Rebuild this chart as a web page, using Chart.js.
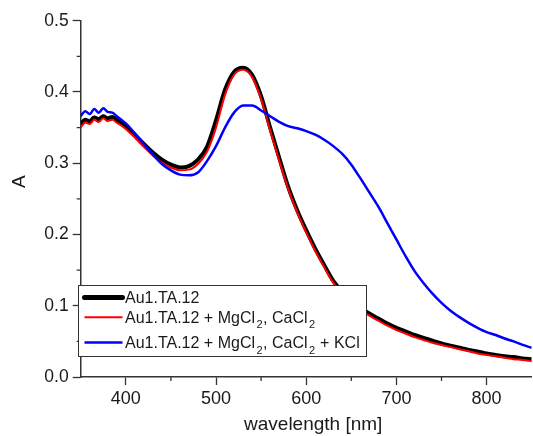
<!DOCTYPE html>
<html>
<head>
<meta charset="utf-8">
<script src="https://cdn.jsdelivr.net/npm/chart.js@4.4.0/dist/chart.umd.min.js"></script>
<style>
    html, body { margin: 0; padding: 0; background: #fff; }
    #wrap { width: 533px; height: 436px; position: relative; }
</style>
</head>
<body>
<div id="wrap"><canvas id="spectra"></canvas></div>
<script>
// wavelength [nm] and absorbance
let wavelengths = [350, 355, 360, 365, 370, 375, 380, 385, 390, 395, 400,
    410, 420, 430, 440, 450, 460, 470, 480, 490, 500,
    510, 520, 530, 540, 550, 560, 570, 580, 590, 600,
    610, 620, 630, 640, 650, 660, 670, 680, 690, 700,
    710, 720, 730, 740, 750, 760, 770, 780, 790, 800,
    810, 820, 830, 840, 850]

let au = [0.355, 0.361, 0.359, 0.364, 0.362, 0.366, 0.363, 0.365, 0.361, 0.357, 0.352,
    0.340, 0.327, 0.315, 0.305, 0.298, 0.294, 0.296, 0.305, 0.323, 0.360,
    0.403, 0.428, 0.434, 0.424, 0.394, 0.350, 0.308, 0.267, 0.234, 0.206,
    0.180, 0.157, 0.135, 0.120, 0.107, 0.097, 0.089, 0.082, 0.075, 0.069,
    0.064, 0.059, 0.055, 0.051, 0.047, 0.044, 0.041, 0.038, 0.036, 0.033,
    0.031, 0.029, 0.028, 0.026, 0.025]

let auMgCa = [0.350, 0.357, 0.355, 0.361, 0.358, 0.363, 0.359, 0.361, 0.357, 0.353, 0.348,
    0.336, 0.323, 0.311, 0.301, 0.294, 0.290, 0.291, 0.299, 0.316, 0.350,
    0.396, 0.424, 0.431, 0.421, 0.390, 0.346, 0.304, 0.264, 0.231, 0.203,
    0.177, 0.154, 0.132, 0.117, 0.104, 0.094, 0.086, 0.079, 0.072, 0.066,
    0.061, 0.056, 0.052, 0.048, 0.045, 0.042, 0.039, 0.036, 0.033, 0.031,
    0.029, 0.027, 0.025, 0.024, 0.022]

let auMgCaK = [0.366, 0.373, 0.369, 0.376, 0.371, 0.377, 0.372, 0.371, 0.366, 0.361, 0.356,
    0.342, 0.327, 0.312, 0.299, 0.290, 0.284, 0.283, 0.287, 0.303, 0.324,
    0.350, 0.371, 0.381, 0.381, 0.374, 0.366, 0.358, 0.352, 0.349, 0.345,
    0.340, 0.333, 0.324, 0.313, 0.298, 0.279, 0.259, 0.239, 0.216, 0.193,
    0.170, 0.149, 0.132, 0.117, 0.104, 0.093, 0.084, 0.076, 0.069, 0.063,
    0.059, 0.054, 0.050, 0.045, 0.041]

let xTicks = [400, 500, 600, 700, 800]
let xMinor = [450, 550, 650, 750]
let yTicks = [0, 0.1, 0.2, 0.3, 0.4, 0.5]
let yTickLabels = ['0.0', '0.1', '0.2', '0.3', '0.4', '0.5']
let yMinor = [0.05, 0.15, 0.25, 0.35, 0.45]

let seriesNames = ['Au1.TA.12', 'Au1.TA.12 + MgCl2, CaCl2', 'Au1.TA.12 + MgCl2, CaCl2 + KCl']
// legend text split into [text, subscript?] pieces
let legendRows = [
    [['Au1.TA.12', false]],
    [['Au1.TA.12 + MgCl', false], ['2', true], [', CaCl', false], ['2', true]],
    [['Au1.TA.12 + MgCl', false], ['2', true], [', CaCl', false], ['2', true], [' + KCl', false]]
]

let axisColor = '#333'
let textColor = '#1a1a1a'
let fontFamily = '"Liberation Sans", Arial, sans-serif'
let colors = ['#000000', '#ff0000', '#0000ff']
let widths = [4, 2, 2.5]

function toPoints(values) {
    return wavelengths.map((w, i) => ({ x: w, y: values[i] }))
}

const extras = {
    id: 'extras',
    afterDraw(chart) {
        const { ctx, chartArea: ca, scales: { x, y } } = chart
        ctx.save()

        // minor ticks
        ctx.strokeStyle = axisColor
        ctx.lineWidth = 1.3
        ctx.beginPath()
        xMinor.forEach(v => {
            let px = x.getPixelForValue(v)
            ctx.moveTo(px, ca.bottom)
            ctx.lineTo(px, ca.bottom + 4)
        })
        yMinor.forEach(v => {
            let py = y.getPixelForValue(v)
            ctx.moveTo(ca.left, py)
            ctx.lineTo(ca.left - 4, py)
        })
        ctx.stroke()

        // axis titles
        ctx.fillStyle = textColor
        ctx.font = '19px ' + fontFamily
        ctx.textAlign = 'center'
        ctx.textBaseline = 'alphabetic'
        ctx.fillText('wavelength [nm]', ca.left + (ca.right - ca.left) / 2 + 7, 430)
        ctx.save()
        ctx.translate(25, 181.7)
        ctx.rotate(-Math.PI / 2)
        ctx.fillText('A', 0, 0)
        ctx.restore()

        // legend box
        let bx = ca.left - 2.2, by = 285.5, bw = 288, bh = 71
        ctx.fillStyle = '#fff'
        ctx.fillRect(bx, by, bw, bh)
        ctx.strokeStyle = axisColor
        ctx.lineWidth = 1
        ctx.strokeRect(bx, by, bw, bh)

        let rowMid = [297.4, 317.2, 342.6]
        let rowBase = [303.3, 322.7, 348.3]
        legendRows.forEach((row, i) => {
            ctx.strokeStyle = colors[i]
            ctx.lineWidth = i === 0 ? 5 : widths[i]
            ctx.lineCap = i === 0 ? 'round' : 'butt'
            ctx.beginPath()
            ctx.moveTo(bx + 6, rowMid[i])
            ctx.lineTo(bx + 44, rowMid[i])
            ctx.stroke()

            let tx = bx + 46.5
            ctx.fillStyle = textColor
            ctx.textAlign = 'left'
            row.forEach(([txt, sub]) => {
                if (sub) {
                    ctx.font = '11px ' + fontFamily
                    tx += 1.5
                    ctx.fillText(txt, tx, rowBase[i] + 5.5)
                    tx += ctx.measureText(txt).width + 0.5
                } else {
                    ctx.font = '16px ' + fontFamily
                    ctx.fillText(txt, tx, rowBase[i])
                    tx += ctx.measureText(txt).width
                }
            })
        })
        ctx.restore()
    }
}

let ctx = document.getElementById('spectra').getContext('2d')
let spectraChart = new Chart(ctx, {
    type: 'line',
    data: {
        datasets: [
            {
                label: seriesNames[0],
                data: toPoints(au),
                borderColor: colors[0],
                borderWidth: widths[0],
                order: 3
            },
            {
                label: seriesNames[1],
                data: toPoints(auMgCa),
                borderColor: colors[1],
                borderWidth: widths[1],
                order: 2
            },
            {
                label: seriesNames[2],
                data: toPoints(auMgCaK),
                borderColor: colors[2],
                borderWidth: widths[2],
                order: 1
            }
        ]
    },
    options: {
        responsive: true,
        maintainAspectRatio: false,
        animation: false,
        layout: { padding: { top: 20.7, right: 1.3, left: 0, bottom: 0 } },
        elements: {
            point: { radius: 0 },
            line: { cubicInterpolationMode: 'monotone', fill: false }
        },
        plugins: {
            legend: { display: false },
            tooltip: { enabled: false }
        },
        scales: {
            x: {
                type: 'linear',
                min: 350,
                max: 850,
                afterBuildTicks: s => { s.ticks = xTicks.map(v => ({ value: v })) },
                afterFit: s => { s.height = 59 },
                grid: { drawOnChartArea: false, tickLength: 8, color: axisColor, tickWidth: 1.3 },
                border: { display: true, color: axisColor, width: 1.5 },
                ticks: {
                    color: textColor,
                    font: { family: fontFamily, size: 18 },
                    padding: 3,
                    maxRotation: 0
                }
            },
            y: {
                type: 'linear',
                min: 0,
                max: 0.5,
                afterBuildTicks: s => { s.ticks = yTicks.map(v => ({ value: v })) },
                afterFit: s => { s.width = 80.7 },
                grid: { drawOnChartArea: false, tickLength: 8, color: axisColor, tickWidth: 1.3 },
                border: { display: true, color: axisColor, width: 1.5 },
                ticks: {
                    color: textColor,
                    font: { family: fontFamily, size: 17.5 },
                    padding: 4,
                    callback: (v, i) => yTickLabels[i]
                }
            }
        }
    },
    plugins: [extras]
})
</script>
</body>
</html>
